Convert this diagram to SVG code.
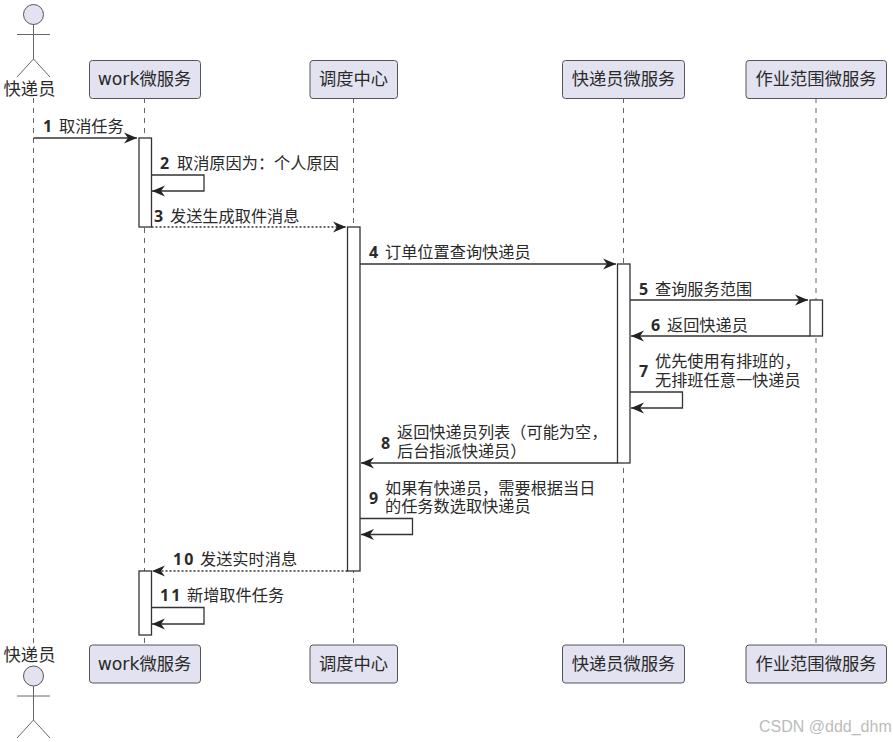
<svg xmlns="http://www.w3.org/2000/svg" width="893" height="742" viewBox="0 0 893 742">
<style>
text{font-family:"Noto Sans CJK SC","Liberation Sans",sans-serif;fill:#2a2a2a}
.p{font-size:17.3px;text-anchor:middle;font-family:"DejaVu Sans","Noto Sans CJK SC",sans-serif}
.m{font-size:16.2px}
.n{font-size:16px;font-weight:700;font-family:"Noto Sans","Noto Sans CJK SC",sans-serif}
.box{fill:#e2e2f0;stroke:#555;stroke-width:1}
.actor{fill:none;stroke:#666;stroke-width:1}
.head{fill:#e2e2f0;stroke:#555;stroke-width:1}
.life{fill:none;stroke:#666;stroke-width:1;stroke-dasharray:5 5}
.act{fill:#fff;stroke:#333;stroke-width:1.3}
.msg{fill:none;stroke:#333;stroke-width:1.3;marker-end:url(#a)}
.dash{stroke-dasharray:2 2}
</style>
<defs><marker id="a" markerUnits="userSpaceOnUse" markerWidth="16" markerHeight="14" refX="14" refY="7" orient="auto"><path d="M1,1.500 L14,7 L1,12.500 L5,7 Z" fill="#222"/></marker></defs>
<g id="lifelines">
<path class="life" d="M33.500 98V645"/><path class="life" d="M144.500 98V645"/><path class="life" d="M353.500 98V645"/><path class="life" d="M623.500 98V645"/><path class="life" d="M816 98V645"/>
</g>
<g id="activations">
<rect class="act" x="139" y="138" width="12.500" height="89"/>
<rect class="act" x="347.500" y="227" width="12.500" height="344"/>
<rect class="act" x="617.500" y="264" width="12.500" height="199"/>
<rect class="act" x="810" y="300" width="12.500" height="36"/>
<rect class="act" x="139" y="571" width="12.500" height="64"/>
</g>
<g id="connectors">
<path class="msg" d="M33.500 138H137"/>
<path class="msg" d="M151.500 175H204V191H152"/>
<path class="msg dash" d="M151.500 227H346"/>
<path class="msg" d="M360 264H616"/>
<path class="msg" d="M630 300H808"/>
<path class="msg" d="M810 336H631"/>
<path class="msg" d="M630 392H682.500V408H631"/>
<path class="msg" d="M617.500 463H361"/>
<path class="msg" d="M360 518.500H412.500V534.500H361"/>
<path class="msg dash" d="M347.500 571H152"/>
<path class="msg" d="M151.500 607.500H204V624H152"/>
</g>
<g id="labels">
<text class="n" x="43" y="132">1</text><text class="m" x="59" y="132">取消任务</text>
<text class="n" x="160" y="169">2</text><text class="m" x="177" y="169">取消原因为：个人原因</text>
<text class="n" x="154" y="222">3</text><text class="m" x="170" y="222">发送生成取件消息</text>
<text class="n" x="369" y="258">4</text><text class="m" x="385" y="258">订单位置查询快递员</text>
<text class="n" x="639" y="295">5</text><text class="m" x="655" y="295">查询服务范围</text>
<text class="n" x="651" y="331">6</text><text class="m" x="667" y="331">返回快递员</text>
<text class="n" x="639" y="377">7</text><text class="m" x="655" y="367">优先使用有排班的，</text><text class="m" x="655" y="386">无排班任意一快递员</text>
<text class="n" x="381" y="449">8</text><text class="m" x="397" y="438">返回快递员列表（可能为空，</text><text class="m" x="397" y="457">后台指派快递员）</text>
<text class="n" x="369" y="504">9</text><text class="m" x="385" y="494">如果有快递员，需要根据当日</text><text class="m" x="385" y="512">的任务数选取快递员</text>
<text class="n" x="173" y="565" letter-spacing="2">10</text><text class="m" x="200" y="565">发送实时消息</text>
<text class="n" x="160" y="601" letter-spacing="2">11</text><text class="m" x="187" y="601">新增取件任务</text>
</g>
<g id="actor-top">
<circle class="head" cx="33.500" cy="14.500" r="10"/><path class="actor" d="M33.500 24.500V59M17 34.500H50M17 77L33.500 59L50 77"/>
<text class="p" x="29.500" y="95">快递员</text>
</g>
<g id="work-top"><rect class="box" x="89.500" y="60.500" width="111" height="38" rx="3"/><text class="p" x="144.500" y="85">work微服务</text></g>
<g id="dispatch-top"><rect class="box" x="310" y="60.500" width="87.500" height="38" rx="3"/><text class="p" x="353.500" y="85">调度中心</text></g>
<g id="courier-top"><rect class="box" x="562.500" y="60.500" width="122" height="38" rx="3"/><text class="p" x="623.500" y="85">快递员微服务</text></g>
<g id="scope-top"><rect class="box" x="746" y="60.500" width="140.500" height="38" rx="3"/><text class="p" x="816" y="85">作业范围微服务</text></g>
<g id="actor-bottom">
<text class="p" x="29.500" y="661">快递员</text>
<circle class="head" cx="33.500" cy="676" r="10"/><path class="actor" d="M33.500 686V720M17 696H50M17 738L33.500 720L50 738"/>
</g>
<g id="work-bottom"><rect class="box" x="89.500" y="645" width="111" height="38" rx="3"/><text class="p" x="144.500" y="670">work微服务</text></g>
<g id="dispatch-bottom"><rect class="box" x="310" y="645" width="87.500" height="38" rx="3"/><text class="p" x="353.500" y="670">调度中心</text></g>
<g id="courier-bottom"><rect class="box" x="562.500" y="645" width="122" height="38" rx="3"/><text class="p" x="623.500" y="670">快递员微服务</text></g>
<g id="scope-bottom"><rect class="box" x="746" y="645" width="140.500" height="38" rx="3"/><text class="p" x="816" y="670">作业范围微服务</text></g>
<text x="759" y="732" style="font-family:'Liberation Sans',sans-serif;font-size:16px;fill:#bbb">CSDN @ddd_dhm</text>
</svg>
